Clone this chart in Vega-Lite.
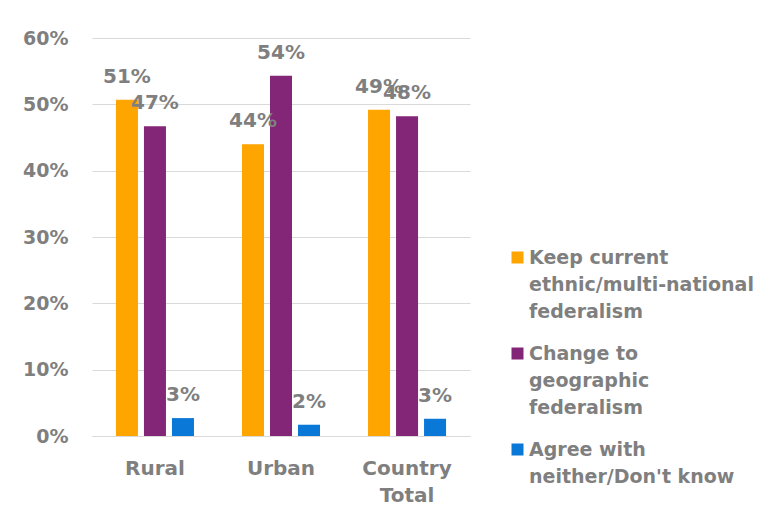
{
  "$schema": "https://vega.github.io/schema/vega-lite/v6.json",
  "width": 378,
  "height": 398,
  "autosize": {"type": "none"},
  "padding": {"left": 92, "top": 38, "right": 305, "bottom": 86},
  "background": "white",
  "config": {
    "view": {"stroke": null},
    "font": "DejaVu Sans",
    "style": {"guide-label": {"lineHeight": 27}}
  },
  "data": {
    "values": [
      {"area": "Rural", "response": "Keep current ethnic/multi-national federalism", "value": 0.507},
      {"area": "Rural", "response": "Change to geographic federalism", "value": 0.467},
      {"area": "Rural", "response": "Agree with neither/Don't know", "value": 0.027},
      {"area": "Urban", "response": "Keep current ethnic/multi-national federalism", "value": 0.44},
      {"area": "Urban", "response": "Change to geographic federalism", "value": 0.543},
      {"area": "Urban", "response": "Agree with neither/Don't know", "value": 0.017},
      {"area": "Country Total", "response": "Keep current ethnic/multi-national federalism", "value": 0.492},
      {"area": "Country Total", "response": "Change to geographic federalism", "value": 0.482},
      {"area": "Country Total", "response": "Agree with neither/Don't know", "value": 0.026}
    ]
  },
  "encoding": {
    "x": {
      "field": "area",
      "type": "nominal",
      "sort": ["Rural", "Urban", "Country Total"],
      "scale": {"paddingInner": 0.381, "paddingOuter": 0.19},
      "axis": {
        "title": null,
        "labelAngle": 0,
        "labelFontSize": 20,
        "labelFontWeight": "bold",
        "labelColor": "#7f7f7f",
        "ticks": false,
        "domainColor": "#d9d9d9",
        "labelPadding": 22,
        "labelLineHeight": 27,
        "labelExpr": "datum.label == 'Country Total' ? ['Country', 'Total'] : datum.label"
      }
    },
    "xOffset": {
      "field": "response",
      "type": "nominal",
      "sort": ["Keep current ethnic/multi-national federalism", "Change to geographic federalism", "Agree with neither/Don't know"],
      "scale": {"paddingInner": 0.214, "paddingOuter": 0}
    },
    "y": {
      "field": "value",
      "type": "quantitative",
      "scale": {"domain": [0, 0.6]},
      "axis": {
        "title": null,
        "format": ".0%",
        "values": [0, 0.1, 0.2, 0.3, 0.4, 0.5, 0.6],
        "labelFontSize": 19,
        "labelFontWeight": "bold",
        "labelColor": "#7f7f7f",
        "ticks": false,
        "domain": false,
        "gridColor": "#d9d9d9",
        "labelPadding": 24
      }
    }
  },
  "layer": [
    {
      "mark": {"type": "bar"},
      "encoding": {
        "color": {
          "field": "response",
          "type": "nominal",
          "sort": ["Keep current ethnic/multi-national federalism", "Change to geographic federalism", "Agree with neither/Don't know"],
          "scale": {"range": ["#FFA500", "#832678", "#0A78D7"]},
          "legend": {
            "title": null,
            "orient": "none",
            "legendX": 416,
            "legendY": 210,
            "symbolType": "square",
            "symbolSize": 144,
            "symbolStrokeWidth": 0,
            "labelFontSize": 19,
            "labelFontWeight": "bold",
            "labelColor": "#7f7f7f",
            "labelLimit": 400,
            "labelOffset": 2,
            "rowPadding": 22,
            "labelExpr": "datum.label == 'Keep current ethnic/multi-national federalism' ? ['Keep current', 'ethnic/multi-national', 'federalism'] : datum.label == 'Change to geographic federalism' ? ['Change to', 'geographic', 'federalism'] : ['Agree with', \"neither/Don't know\"]"
          }
        }
      }
    },
    {
      "mark": {"type": "text", "dy": -17, "baseline": "alphabetic", "fontSize": 20, "fontWeight": "bold", "color": "#7f7f7f"},
      "encoding": {
        "text": {"field": "value", "type": "quantitative", "format": ".0%"}
      }
    }
  ]
}
